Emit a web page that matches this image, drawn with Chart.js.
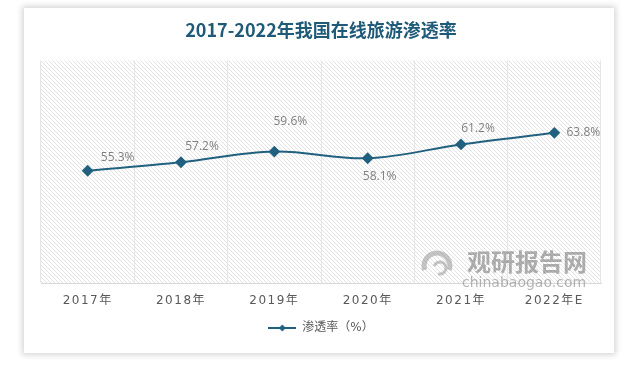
<!DOCTYPE html>
<html>
<head>
<meta charset="utf-8">
<script src="https://cdn.jsdelivr.net/npm/chart.js@4"></script>
<style>
  html, body { margin: 0; padding: 0; background: #fff; }
  #card {
    position: absolute; left: 24px; top: 8px; width: 590px; height: 345px;
    background: #fff; box-shadow: 0 0 6px 2px rgba(0,0,0,0.16);
  }
  #wrap { position: absolute; left: 0; top: 0; width: 625px; height: 365px; }
</style>
</head>
<body>
<div id="card"></div>
<div id="wrap"><canvas id="chart" width="625" height="365"></canvas></div>
<script>
const years = ["2017年", "2018年", "2019年", "2020年", "2021年", "2022年E"];
const penetration = [55.3, 57.2, 59.6, 58.1, 61.2, 63.8];
const seriesName = "渗透率（%）";

// where each value label sits relative to its point
const labelOffsets = [[30, -13], [21, -16], [16, -30], [12, 18], [17, -16], [29, 0]];

const lineColor = "#21607f";
const cjk = "'DejaVu Sans', 'Noto Sans CJK SC', sans-serif";

// hatched plot background
const hatch = document.createElement("canvas");
hatch.width = 4; hatch.height = 4;
const hctx = hatch.getContext("2d");
hctx.strokeStyle = "#dcdcdc";
hctx.lineWidth = 0.8;
hctx.beginPath();
hctx.moveTo(-1, -1); hctx.lineTo(5, 5);
hctx.moveTo(3, -1); hctx.lineTo(5, 1);
hctx.moveTo(-1, 3); hctx.lineTo(1, 5);
hctx.stroke();

// legend symbol: line with diamond
const legendIcon = document.createElement("canvas");
legendIcon.width = 28; legendIcon.height = 10;
const lctx = legendIcon.getContext("2d");
lctx.strokeStyle = lineColor; lctx.fillStyle = lineColor; lctx.lineWidth = 2;
lctx.beginPath(); lctx.moveTo(0, 5); lctx.lineTo(28, 5); lctx.stroke();
lctx.beginPath(); lctx.moveTo(14, 1.5); lctx.lineTo(17.5, 5); lctx.lineTo(14, 8.5); lctx.lineTo(10.5, 5); lctx.closePath(); lctx.fill();

const backdrop = {
    id: "backdrop",
    beforeDraw(chart) {
        const { ctx, chartArea: a } = chart;
        ctx.save();
        ctx.fillStyle = ctx.createPattern(hatch, "repeat");
        ctx.fillRect(a.left, a.top, a.right - a.left, a.bottom - a.top);
        ctx.restore();
        // spaced out axis labels
        const xs = chart.scales.x;
        if (!xs._spaced) {
            const orig = xs.drawLabels.bind(xs);
            xs.drawLabels = function (area) {
                this.ctx.save();
                this.ctx.letterSpacing = "1.5px";
                orig(area);
                this.ctx.restore();
            };
            xs._spaced = true;
        }
    },
    beforeDatasetsDraw(chart) {
        // watermark
        const { ctx } = chart;
        ctx.save();
        ctx.strokeStyle = "rgba(150,150,150,0.55)";
        ctx.lineWidth = 5;
        ctx.beginPath(); ctx.arc(437, 266, 13, Math.PI * 0.9, Math.PI * 2.1); ctx.stroke();
        ctx.lineWidth = 3;
        ctx.beginPath(); ctx.arc(440, 268, 6, Math.PI * 1.1, Math.PI * 2.6); ctx.stroke();
        ctx.fillStyle = "rgba(120,120,120,0.6)";
        ctx.font = "bold 24px 'Noto Sans CJK SC'";
        ctx.textAlign = "left"; ctx.textBaseline = "middle";
        ctx.fillText("观研报告网", 467, 262);
        ctx.fillStyle = "rgba(120,120,120,0.55)";
        ctx.font = "14px 'DejaVu Sans'";
        ctx.fillText("chinabaogao.com", 462, 283);
        ctx.restore();
    },
    afterDatasetsDraw(chart) {
        const { ctx } = chart;
        const pts = chart.getDatasetMeta(0).data;
        ctx.save();
        ctx.fillStyle = "#808080";
        ctx.font = "12px 'Open Sans', sans-serif";
        ctx.textAlign = "center"; ctx.textBaseline = "middle";
        pts.forEach((p, i) => {
            const [dx, dy] = labelOffsets[i];
            ctx.fillText(penetration[i].toFixed(1) + "%", p.x + dx, p.y + dy);
        });
        ctx.restore();
    }
};

new Chart(document.getElementById("chart"), {
    type: "line",
    data: {
        labels: years,
        datasets: [{
            label: seriesName,
            data: penetration,
            borderColor: lineColor,
            backgroundColor: lineColor,
            borderWidth: 2,
            tension: 0.35,
            pointStyle: "rectRot",
            pointRadius: 4.5,
            pointHoverRadius: 4.5,
        }],
    },
    options: {
        responsive: false,
        animation: false,
        layout: { padding: { left: 41, right: 24, top: 18, bottom: 21 } },
        plugins: {
            title: {
                display: true,
                text: "2017-2022年我国在线旅游渗透率",
                color: "#1f5a78",
                font: { family: "'Noto Sans CJK SC'", size: 18, weight: "bold" },
                padding: { top: 1, bottom: 20 },
            },
            legend: {
                position: "bottom",
                labels: {
                    usePointStyle: true,
                    pointStyle: legendIcon,
                    pointStyleWidth: 28,
                    boxHeight: 10,
                    color: "#595959",
                    font: { family: cjk, size: 12 },
                    padding: 4,
                },
            },
            tooltip: { enabled: false },
        },
        scales: {
            x: {
                offset: true,
                grid: { offset: true, color: "#e6e6e6", drawTicks: false },
                border: { color: "#d9d9d9" },
                ticks: { color: "#595959", font: { family: cjk, size: 12 }, padding: 10 },
            },
            y: { display: false, min: 30, max: 80 },
        },
    },
    plugins: [backdrop],
});
</script>
</body>
</html>
